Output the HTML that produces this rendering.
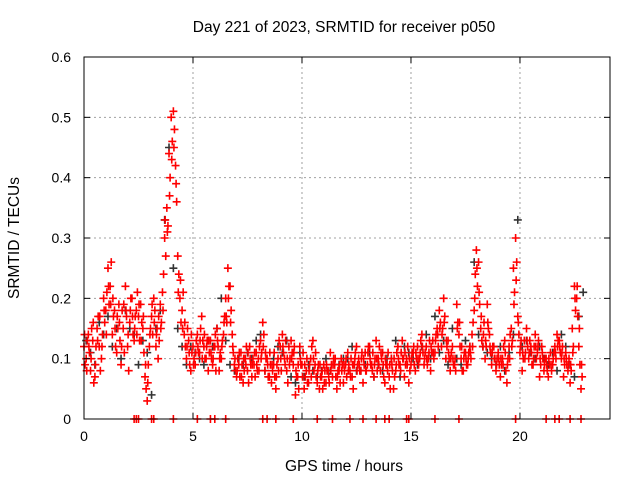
<!DOCTYPE html>
<html><head><meta charset="utf-8"><style>
html,body{margin:0;padding:0;background:#fff;}
svg{display:block;font-family:"Liberation Sans",sans-serif;}
</style></head><body>
<svg id="chart" width="640" height="480" viewBox="0 0 640 480">
<g id="grid"></g>
<g id="marks"></g>
<rect x="84" y="57" width="526" height="362" fill="none" stroke="#000" stroke-width="1"/>
<g id="axes"></g>
<text x="344" y="32" text-anchor="middle" font-size="15.5">Day 221 of 2023, SRMTID for receiver p050</text>
<text x="344" y="471" text-anchor="middle" font-size="15.5">GPS time / hours</text>
<text x="19" y="238" text-anchor="middle" font-size="15.5" transform="rotate(-90 19 238)">SRMTID / TECUs</text>
</svg>
<script>
const xTicks=[0,5,10,15,20];
const yTicks=[0,0.1,0.2,0.3,0.4,0.5,0.6];
const yTickLabels=["0","0.1","0.2","0.3","0.4","0.5","0.6"];
const redStep=0.1;
const redA=[0.12,0.10,0.14,0.08,0.13,0.07,
0.15,0.12,0.10,0.20,0.18, 0.25,0.22,0.14,0.18,0.11, 0.19,0.09,0.15,0.22,0.12,
0.16,0.20,0.13,0.18,0.17, 0.19,0.15,0.07,0.03,0.12, 0.17,0.20,0.12,0.10,0.19,
0.21,0.30,0.35,0.44,0.50, 0.51,0.42,0.27,0.20,0.18, 0.14,0.10,0.13,0.08,0.12,
0.09,0.14,0.11,0.17,0.12, 0.10,0.08,0.13,0.09,0.12, 0.15,0.08,0.10,0.14,0.20,
0.25,0.22,0.14,0.09,0.07, 0.09,0.11,0.06,0.10,0.08, 0.12,0.07,0.09,0.11,0.10,
0.13,0.16,0.08,0.10,0.07, 0.06,0.09,0.05,0.10,0.12, 0.14,0.10,0.08,0.12,0.13,
0.09,0.04,0.07,0.12,0.09, 0.05,0.08,0.06,0.10,0.13, 0.09,0.06,0.05,0.07,0.09,
0.06,0.08,0.11,0.07,0.09, 0.05,0.08,0.10,0.06,0.09, 0.11,0.08,0.07,0.09,0.12,
0.10,0.08,0.06,0.11,0.09, 0.12,0.09,0.07,0.13,0.10, 0.08,0.11,0.06,0.09,0.07,
0.10,0.05,0.08,0.12,0.09, 0.13,0.07,0.10,0.06,0.09, 0.11,0.08,0.12,0.10,0.14,
0.09,0.12,0.10,0.08,0.13, 0.11,0.15,0.18,0.12,0.20, 0.10,0.13,0.08,0.12,0.09,
0.19,0.14,0.10,0.08,0.11, 0.09,0.12,0.14,0.18,0.28, 0.26,0.15,0.12,0.10,0.19,
0.14,0.09,0.12,0.08,0.11, 0.07,0.10,0.13,0.06,0.12, 0.15,0.25,0.30,0.17,0.11,
0.08,0.13,0.15,0.10,0.12, 0.09,0.14,0.11,0.07,0.12, 0.08,0.10,0.07,0.11,0.09,
0.12,0.14,0.13,0.10,0.07, 0.11,0.08,0.06,0.15,0.22, 0.20,0.12,0.05];
const redB=[0.09,0.13,0.11,0.15,0.06,0.12,
0.17,0.08,0.14,0.16,0.21, 0.19,0.26,0.17,0.12,0.15, 0.13,0.18,0.11,0.17,0.08,
0.20,0.14,0.17,0.21,0.13, 0.16,0.11,0.05,0.09,0.15, 0.14,0.18,0.15,0.13,0.16,
0.24,0.27,0.32,0.40,0.46, 0.48,0.36,0.24,0.16,0.21, 0.12,0.15,0.09,0.11,0.10,
0.13,0.11,0.15,0.13,0.10, 0.13,0.11,0.10,0.12,0.08, 0.12,0.11,0.13,0.17,0.16,
0.22,0.18,0.11,0.08,0.10, 0.07,0.09,0.08,0.12,0.06, 0.09,0.10,0.07,0.08,0.12,
0.11,0.14,0.10,0.07,0.09, 0.08,0.07,0.09,0.13,0.08, 0.11,0.13,0.06,0.10,0.11,
0.12,0.07,0.05,0.09,0.11, 0.07,0.06,0.09,0.12,0.08, 0.07,0.09,0.07,0.05,0.08,
0.08,0.06,0.09,0.10,0.07, 0.08,0.06,0.09,0.08,0.07, 0.09,0.10,0.05,0.11,0.09,
0.08,0.11,0.09,0.08,0.12, 0.09,0.11,0.10,0.08,0.12, 0.10,0.07,0.09,0.11,0.05,
0.08,0.07,0.11,0.09,0.11, 0.10,0.09,0.12,0.08,0.11, 0.09,0.10,0.09,0.13,0.11,
0.11,0.09,0.13,0.11,0.10, 0.14,0.12,0.16,0.15,0.17, 0.12,0.10,0.11,0.09,0.08,
0.16,0.12,0.08,0.11,0.09, 0.11,0.10,0.16,0.24,0.22, 0.19,0.13,0.16,0.12,0.15,
0.11,0.12,0.10,0.10,0.09, 0.09,0.12,0.08,0.10,0.14, 0.13,0.21,0.26,0.14,0.13,
0.10,0.11,0.12,0.13,0.09, 0.12,0.10,0.13,0.09,0.10, 0.10,0.08,0.09,0.08,0.11,
0.10,0.13,0.11,0.12,0.09, 0.09,0.10,0.08,0.12,0.18, 0.17,0.09,0.07];
const redC=[0.14,0.08,0.12,0.10,0.16,0.09,
0.13,0.17,0.12,0.18,0.14, 0.22,0.19,0.20,0.15,0.17, 0.16,0.12,0.19,0.18,0.14,
0.18,0.17,0.15,0.14,0.19, 0.13,0.17,0.09,0.06,0.14, 0.19,0.16,0.14,0.17,0.15,
0.18,0.33,0.31,0.37,0.43, 0.45,0.39,0.21,0.23,0.15, 0.16,0.12,0.11,0.14,0.09,
0.11,0.12,0.13,0.10,0.14, 0.12,0.13,0.11,0.10,0.14, 0.13,0.10,0.12,0.16,0.17,
0.20,0.16,0.12,0.10,0.08, 0.11,0.07,0.10,0.09,0.11, 0.10,0.09,0.11,0.09,0.08,
0.10,0.12,0.11,0.09,0.11, 0.09,0.11,0.07,0.08,0.10, 0.12,0.09,0.10,0.09,0.10,
0.11,0.08,0.09,0.10,0.07, 0.09,0.10,0.08,0.07,0.10, 0.11,0.08,0.09,0.08,0.06,
0.09,0.07,0.08,0.09,0.10, 0.07,0.09,0.08,0.09,0.10, 0.08,0.07,0.09,0.10,0.08,
0.09,0.10,0.10,0.08,0.11, 0.10,0.08,0.09,0.10,0.09, 0.11,0.09,0.10,0.08,0.09,
0.09,0.10,0.09,0.10,0.08, 0.10,0.11,0.09,0.10,0.10, 0.12,0.11,0.10,0.11,0.12,
0.10,0.10,0.11,0.12,0.11, 0.13,0.14,0.15,0.14,0.16, 0.13,0.11,0.10,0.10,0.10,
0.15,0.16,0.12,0.10,0.10, 0.10,0.11,0.12,0.20,0.25, 0.21,0.17,0.14,0.13,0.16,
0.12,0.11,0.10,0.09,0.10, 0.10,0.09,0.11,0.09,0.10, 0.12,0.19,0.23,0.16,0.12,
0.11,0.10,0.13,0.11,0.11, 0.10,0.12,0.12,0.10,0.11, 0.09,0.09,0.10,0.09,0.10,
0.11,0.12,0.12,0.11,0.10, 0.10,0.09,0.09,0.11,0.20, 0.22,0.15,0.09];
const blackStep=0.2;
const blackVals=[0.13,0.11,0.09,0.16,0.14,0.17,0.12,0.15,0.10,0.18,0.15,0.14,0.09,0.13,0.11,0.04,
0.15,0.18,0.33,0.45,0.25,0.15,0.12,0.09,0.12,0.11,0.10,0.09,0.13,0.12,0.15,0.20,0.13,0.09,0.08,0.10,
0.09,0.11,0.10,0.13,0.14,0.08,0.07,0.10,0.12,0.11,0.13,0.07,0.06,0.11,0.07,0.09,0.08,0.07,0.08,0.10,
0.08,0.09,0.09,0.10,0.10,0.12,0.08,0.08,0.09,0.11,0.07,0.09,0.08,0.10,0.10,0.13,0.07,0.12,0.11,0.10,
0.09,0.12,0.14,0.10,0.17,0.11,0.13,0.09,0.15,0.10,0.09,0.13,0.12,0.26,0.14,0.12,0.11,0.10,0.09,0.12,
0.08,0.11,0.14,0.33,0.12,0.13,0.11,0.10,0.12,0.10,0.09,0.11,0.08,0.14,0.12,0.09,0.07,0.17,0.21];
const zeroTimes=[2.3,2.4,2.5,3.1,3.2,4.1,5.2,5.8,6.0,6.5,8.2,8.4,8.8,9.6,10.7,11.4,12.2,12.8,13.4,13.8,14.0,14.8,14.9,16.1,17.2,19.8,21.2,21.6,21.8,22.3,22.8];

const NS='http://www.w3.org/2000/svg';
const X0=84,X1=610,Y0=419,Y1=57,XMAX=24.13,YMAX=0.6;
const xs=v=>X0+(X1-X0)*v/XMAX;
const ys=v=>Y0-(Y0-Y1)*v/YMAX;
function mk(tag,attrs,parent){const e=document.createElementNS(NS,tag);for(const k in attrs)e.setAttribute(k,attrs[k]);parent.appendChild(e);return e;}
const grid=document.getElementById('grid'),axes=document.getElementById('axes'),marks=document.getElementById('marks');
xTicks.forEach(t=>{const x=xs(t);
 if(t>0){const g=mk('line',{x1:x,x2:x,y1:Y1,y2:Y0,stroke:'#a0a0a0','stroke-dasharray':'2,3'},grid);
 
 }
 mk('line',{x1:x,x2:x,y1:Y0,y2:Y0-6,stroke:'#000'},axes);mk('line',{x1:x,x2:x,y1:Y1,y2:Y1+6,stroke:'#000'},axes);
 const l=mk('text',{x:x,y:Y0+22,'text-anchor':'middle','font-size':'14'},axes);l.textContent=String(t);
 
 });
yTicks.forEach((t,i)=>{const y=ys(t);
 if(t>0&&t<YMAX){const g=mk('line',{x1:X0,x2:X1,y1:y,y2:y,stroke:'#a0a0a0','stroke-dasharray':'2,3'},grid);
 
 }
 mk('line',{x1:X0,x2:X0+6,y1:y,y2:y,stroke:'#000'},axes);mk('line',{x1:X1,x2:X1-6,y1:y,y2:y,stroke:'#000'},axes);
 const l=mk('text',{x:X0-13,y:y+5,'text-anchor':'end','font-size':'14'},axes);l.textContent=yTickLabels[i];
 
 });
function plus(t,v,color,name){const x=xs(t),y=ys(v);
 const p=mk('path',{d:`M${x-4},${y}H${x+4}M${x},${y-4}V${y+4}`,stroke:color,'stroke-width':'1.6',fill:'none'},marks);
 
 }
blackVals.forEach((v,i)=>plus(i*blackStep+0.1,v,'#333','black-point'));
redA.forEach((v,i)=>plus(i*redStep,v,'#ff0000','red-point'));
redB.forEach((v,i)=>plus(i*redStep+0.05,v,'#ff0000','red-point'));
redC.forEach((v,i)=>plus(i*redStep+0.025,v,'#ff0000','red-point'));
zeroTimes.forEach(t=>plus(t,0,'#ff0000','zero-point'));
</script>
</body></html>
